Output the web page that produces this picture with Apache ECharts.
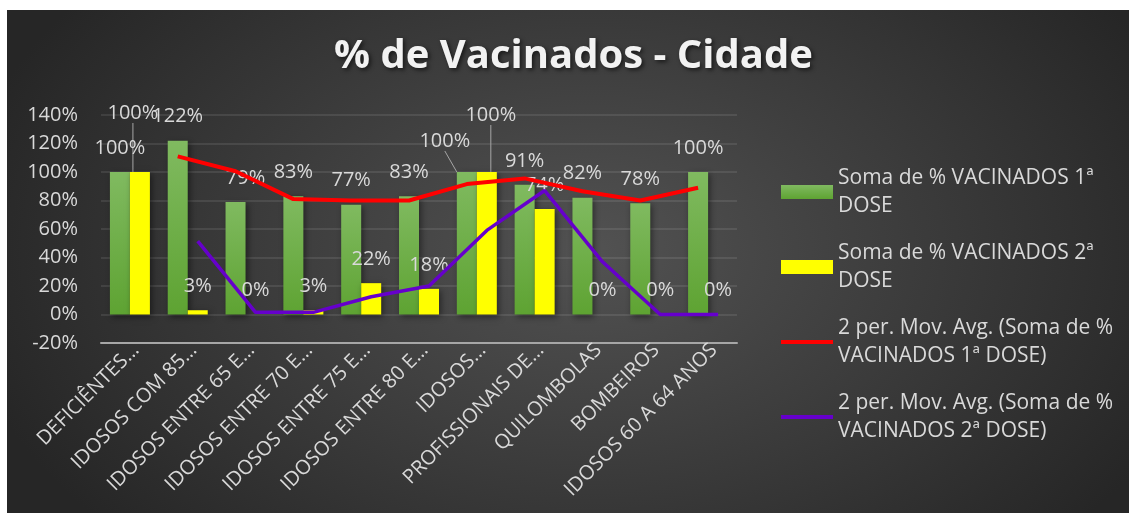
<!DOCTYPE html>
<html>
<head>
<meta charset="utf-8">
<script src="https://cdn.jsdelivr.net/npm/echarts@6/dist/echarts.min.js"></script>
<style>
    html, body { margin: 0; padding: 0; background: #ffffff; }
    #vacChart {
        position: absolute; left: 7px; top: 10px; width: 1122px; height: 503px;
        background: radial-gradient(ellipse 640px 420px at 52% 48%, #525252 0%, #3a3a3a 55%, #262626 100%);
    }
</style>
</head>
<body>
<div id="vacChart"></div>
<script>
    // categorias (rótulos já truncados como no gráfico original)
    var categories = ['DEFICIÊNTES…', 'IDOSOS COM 85…', 'IDOSOS ENTRE 65 E…', 'IDOSOS ENTRE 70 E…',
        'IDOSOS ENTRE 75 E…', 'IDOSOS ENTRE 80 E…', 'IDOSOS…', 'PROFISSIONAIS DE…',
        'QUILOMBOLAS', 'BOMBEIROS', 'IDOSOS 60 A 64 ANOS'];
    var dose1 = [100, 122, 79, 83, 77, 83, 100, 91, 82, 78, 100];
    var dose2 = [100, 3, 0, 3, 22, 18, 100, 74, 0, 0, 0];
    // médias móveis de 2 períodos
    var avgDose1 = [null, 111, 100.5, 81, 80, 80, 91.5, 95.5, 86.5, 80, 89];
    var avgDose2 = [null, 51.5, 1.5, 1.5, 12.5, 20, 59, 87, 37, 0, 0];
    var yMin = -20, yMax = 140, yStep = 20;
    var seriesNames = ['Soma de % VACINADOS 1ª DOSE', 'Soma de % VACINADOS 2ª DOSE',
        '2 per. Mov. Avg. (Soma de % VACINADOS 1ª DOSE)', '2 per. Mov. Avg. (Soma de % VACINADOS 2ª DOSE)'];

    var textColor = '#d9d9d9';
    var font = 'Open Sans';

    // rótulos que o Excel deslocou (com linha de chamada)
    var moved = {
        '0-2': {dx: 10, dy: 0},
        '0-6': {dx: -22, dy: -7, line: true},
        '1-0': {dx: -7, dy: -35, line: true},
        '1-6': {dx: 4, dy: -33, line: true}
    };

    function barData(values, s) {
        return values.map(function (v, i) {
            var m = moved[s + '-' + i];
            if (m && m.line) {
                return {value: v, labelLine: {show: true, lineStyle: {color: '#a6a6a6', width: 1}}};
            }
            return v;
        });
    }

    var gridPos = {top: 105, width: 636, height: 228};
    function grid(left) {
        return {left: left, top: gridPos.top, width: gridPos.width, height: gridPos.height};
    }
    function hiddenX(g) {
        return {type: 'category', gridIndex: g, data: categories, show: false};
    }
    function hiddenY(g) {
        return {type: 'value', gridIndex: g, min: yMin, max: yMax, interval: yStep, show: false};
    }

    var myChart = echarts.init(document.getElementById('vacChart'));
    myChart.setOption({
        backgroundColor: 'transparent',
        animation: false,
        title: {
            text: '% de Vacinados - Cidade',
            left: 322,
            top: 22,
            textStyle: {
                fontFamily: font,
                fontSize: 40,
                fontWeight: 'bold',
                color: '#f2f2f2',
                textShadowColor: 'rgba(0,0,0,0.6)',
                textShadowBlur: 4,
                textShadowOffsetX: 2,
                textShadowOffsetY: 2
            }
        },
        legend: {
            orient: 'vertical',
            left: 772,
            top: 140,
            padding: 0,
            itemWidth: 52,
            itemHeight: 14,
            itemGap: -9,
            data: [
                {name: seriesNames[0], icon: 'rect'},
                {name: seriesNames[1], icon: 'rect'},
                {name: seriesNames[2], itemStyle: {opacity: 0}, lineStyle: {width: 4}},
                {name: seriesNames[3], itemStyle: {opacity: 0}, lineStyle: {width: 4}}
            ],
            formatter: function (name) {
                if (name.indexOf('2 per') === 0) {
                    return name.replace(' VACINADOS', '\nVACINADOS');
                }
                return name.replace(' DOSE', '\nDOSE');
            },
            textStyle: {
                fontFamily: font,
                fontSize: 21,
                color: textColor,
                lineHeight: 28,
                padding: [28, 0, 0, 0]
            }
        },
        grid: [grid(94), grid(84), grid(104), grid(100)],
        xAxis: [
            {type: 'category', gridIndex: 0, data: categories,
                axisLine: {show: false}, axisTick: {show: false}, axisLabel: {show: false}},
            {type: 'category', gridIndex: 0, data: categories, position: 'bottom',
                axisLine: {show: true, onZero: true, lineStyle: {color: '#a6a6a6', width: 2}},
                axisTick: {show: false}, axisLabel: {show: false}},
            hiddenX(1),
            hiddenX(2),
            {type: 'category', gridIndex: 3, data: categories,
                axisLine: {show: false}, axisTick: {show: false},
                axisLabel: {
                    interval: 0, rotate: 45, margin: 4,
                    fontFamily: font, fontSize: 20, color: textColor
                }}
        ],
        yAxis: [
            {type: 'value', gridIndex: 0, min: yMin, max: yMax, interval: yStep,
                axisLabel: {formatter: '{value}%', fontFamily: font, fontSize: 20, color: textColor, margin: 23},
                axisLine: {show: false}, axisTick: {show: false},
                splitLine: {lineStyle: {color: 'rgba(255,255,255,0.12)', width: 1.5}}},
            hiddenY(1),
            hiddenY(2),
            hiddenY(3)
        ],
        labelLayout: function (params) {
            var m = moved[params.seriesIndex + '-' + params.dataIndex];
            if (m) {
                return {dx: m.dx, dy: m.dy};
            }
        },
        series: [
            {
                name: seriesNames[0], type: 'bar', xAxisIndex: 0, yAxisIndex: 0,
                barWidth: 20, barGap: '0%',
                itemStyle: {
                    color: new echarts.graphic.LinearGradient(0, 0, 0, 1, [
                        {offset: 0, color: '#80ba60'}, {offset: 1, color: '#5ea332'}]),
                    shadowColor: 'rgba(0,0,0,0.45)', shadowBlur: 6, shadowOffsetX: 2, shadowOffsetY: 2
                },
                label: {show: true, position: 'top', distance: 14, formatter: '{c}%',
                    fontFamily: font, fontSize: 20, color: textColor},
                data: barData(dose1, 0)
            },
            {
                name: seriesNames[1], type: 'bar', xAxisIndex: 0, yAxisIndex: 0,
                barWidth: 20, barGap: '0%',
                itemStyle: {
                    color: '#ffff00',
                    shadowColor: 'rgba(0,0,0,0.45)', shadowBlur: 6, shadowOffsetX: 2, shadowOffsetY: 2
                },
                label: {show: true, position: 'top', distance: 14, formatter: '{c}%',
                    fontFamily: font, fontSize: 20, color: textColor},
                data: barData(dose2, 1)
            },
            {
                name: seriesNames[2], type: 'line', xAxisIndex: 2, yAxisIndex: 1,
                symbol: 'none', lineStyle: {color: '#ff0000', width: 4}, itemStyle: {color: '#ff0000'},
                data: avgDose1
            },
            {
                name: seriesNames[3], type: 'line', xAxisIndex: 3, yAxisIndex: 2,
                symbol: 'none', lineStyle: {color: '#6600cc', width: 3.5}, itemStyle: {color: '#6600cc'},
                data: avgDose2
            }
        ]
    });
</script>
</body>
</html>
